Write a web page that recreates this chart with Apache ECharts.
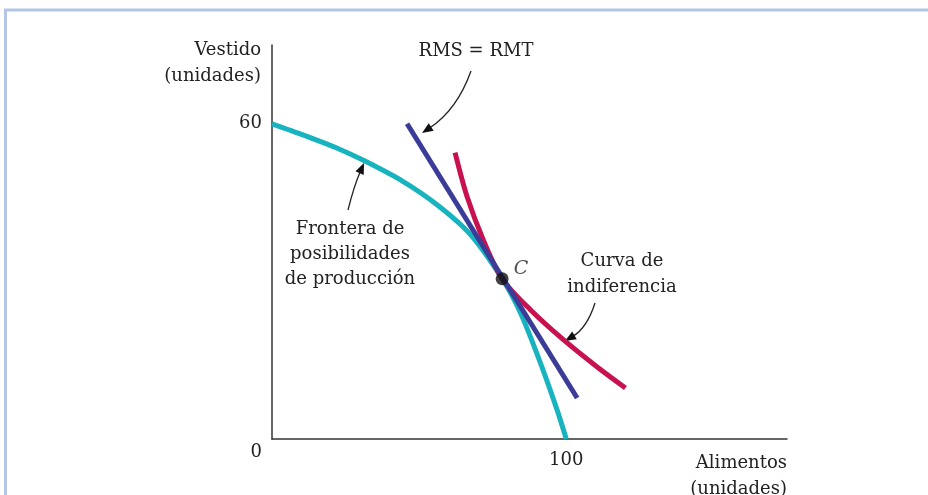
<!DOCTYPE html>
<html>
<head>
<meta charset="utf-8">
<script src="https://cdn.jsdelivr.net/npm/echarts@6/dist/echarts.min.js"></script>
<style>html,body{margin:0;padding:0;background:#fff}#c{width:928px;height:495px}</style>
</head>
<body>
<div id="c"></div>
<script>
// ---- data ----
const ppfX = [0, 10.5, 22, 31.6, 44.6, 56.3, 67.3, 78.2, 84.6, 91.2, 96.9, 100];
const ppfY = [60, 57.9, 55.4, 52.9, 49.0, 44.5, 39.0, 30.5, 23.8, 14.5, 5.5, 0];
const rmsX = [45.9, 103.7];
const rmsY = [60.0, 7.8];
const icX = [62.2, 66.3, 71.8, 78.2, 87.8, 99.0, 110.5, 120.1];
const icY = [54.5, 46.1, 37.9, 30.5, 24.6, 18.9, 13.7, 9.7];
const pointC = [78.2, 30.5];
const xTickLabels = {0: '', 100: '100'};
const yTickLabels = {0: '0', 60: '60'};
const xName = 'Alimentos\n(unidades)';
const yName = 'Vestido\n(unidades)';

const FONT = '"DejaVu Serif", serif';
const zip = (a, b) => a.map((v, i) => [v, b[i]]);

function arrow(x0, y0, cx, cy, x2, y2) {
  const dx = x2 - cx, dy = y2 - cy, L = Math.hypot(dx, dy);
  const ux = dx / L, uy = dy / L, hl = 11, hw = 4.5;
  const bx = x2 - ux * hl, by = y2 - uy * hl;
  return [
    { type: 'bezierCurve', shape: { x1: x0, y1: y0, cpx1: cx, cpy1: cy, x2: bx + ux * 2, y2: by + uy * 2 },
      style: { stroke: '#222', lineWidth: 1.3, fill: null } },
    { type: 'polygon', shape: { points: [[x2, y2], [bx - uy * hw, by + ux * hw], [bx + uy * hw, by - ux * hw]] },
      style: { fill: '#111' } }
  ];
}

const chart = echarts.init(document.getElementById('c'), null, { renderer: 'canvas' });
chart.setOption({
  animation: false,
  backgroundColor: '#fff',
  grid: { left: 272, right: 141, top: 45, bottom: 56, containLabel: false, outerBoundsMode: 'none' },
  xAxis: {
    type: 'value', min: 0, max: 175, interval: 25,
    axisLine: { lineStyle: { color: '#333', width: 1.5 } },
    axisTick: { show: false }, splitLine: { show: false },
    axisLabel: { margin: 12, color: '#222', fontFamily: FONT, fontSize: 18,
      formatter: v => xTickLabels[v] || '' },
    name: xName, nameLocation: 'end', nameGap: 0,
    nameTextStyle: { align: 'right', verticalAlign: 'top', padding: [11, 0, 0, 0],
      fontFamily: FONT, fontSize: 18, color: '#222', lineHeight: 26 }
  },
  yAxis: {
    type: 'value', min: 0, max: 75, interval: 15,
    axisLine: { lineStyle: { color: '#333', width: 1.5 } },
    axisTick: { show: false }, splitLine: { show: false },
    axisLabel: { margin: 10, color: '#222', fontFamily: FONT, fontSize: 18,
      formatter: v => v === 0 ? '{o|' + yTickLabels[0] + '}' : (yTickLabels[v] || ''),
      rich: { o: { padding: [26, 0, 0, 0], fontFamily: FONT, fontSize: 18, color: '#222' } } },
    name: yName, nameLocation: 'end', nameGap: 8,
    nameTextStyle: { align: 'right', verticalAlign: 'top', padding: [0, 11, 0, 0],
      fontFamily: FONT, fontSize: 18, color: '#222', lineHeight: 26 }
  },
  series: [
    { type: 'line', data: zip(ppfX, ppfY), smooth: 0.25, symbol: 'none',
      lineStyle: { color: '#17b3bf', width: 5 }, z: 2 },
    { type: 'line', data: zip(icX, icY), smooth: 0.3, symbol: 'none',
      lineStyle: { color: '#c8124f', width: 5 }, z: 3 },
    { type: 'line', data: zip(rmsX, rmsY), symbol: 'none',
      lineStyle: { color: '#3b3b98', width: 5 }, z: 4 },
    { type: 'scatter', data: [pointC], symbolSize: 13, itemStyle: { color: '#111' }, z: 5,
      label: { show: true, formatter: 'C', position: 'right', distance: 5, offset: [0, -10],
        fontFamily: FONT, fontStyle: 'italic', fontSize: 19, color: '#222' } }
  ],
  graphic: [
    { type: 'line', shape: { x1: 4, y1: 10, x2: 928, y2: 10 }, style: { stroke: '#b3c6e8', lineWidth: 3 } },
    { type: 'line', shape: { x1: 5.5, y1: 9, x2: 5.5, y2: 495 }, style: { stroke: '#b3c6e8', lineWidth: 3 } },
    { type: 'text', x: 476, y: 51, style: { text: 'RMS = RMT', font: '18px ' + FONT, fill: '#222',
      textAlign: 'center', textVerticalAlign: 'middle' } },
    { type: 'text', x: 350, y: 254, style: { text: 'Frontera de\nposibilidades\nde producción', font: '18px ' + FONT,
      fill: '#222', textAlign: 'center', textVerticalAlign: 'middle', lineHeight: 25 } },
    { type: 'text', x: 622, y: 274, style: { text: 'Curva de\nindiferencia', font: '18px ' + FONT,
      fill: '#222', textAlign: 'center', textVerticalAlign: 'middle', lineHeight: 26 } },
    ...arrow(471, 71, 457, 110, 422, 133),
    ...arrow(348, 210, 354, 186, 364, 163),
    ...arrow(595, 303, 587, 328, 565, 341)
  ]
});
</script>
</body>
</html>
